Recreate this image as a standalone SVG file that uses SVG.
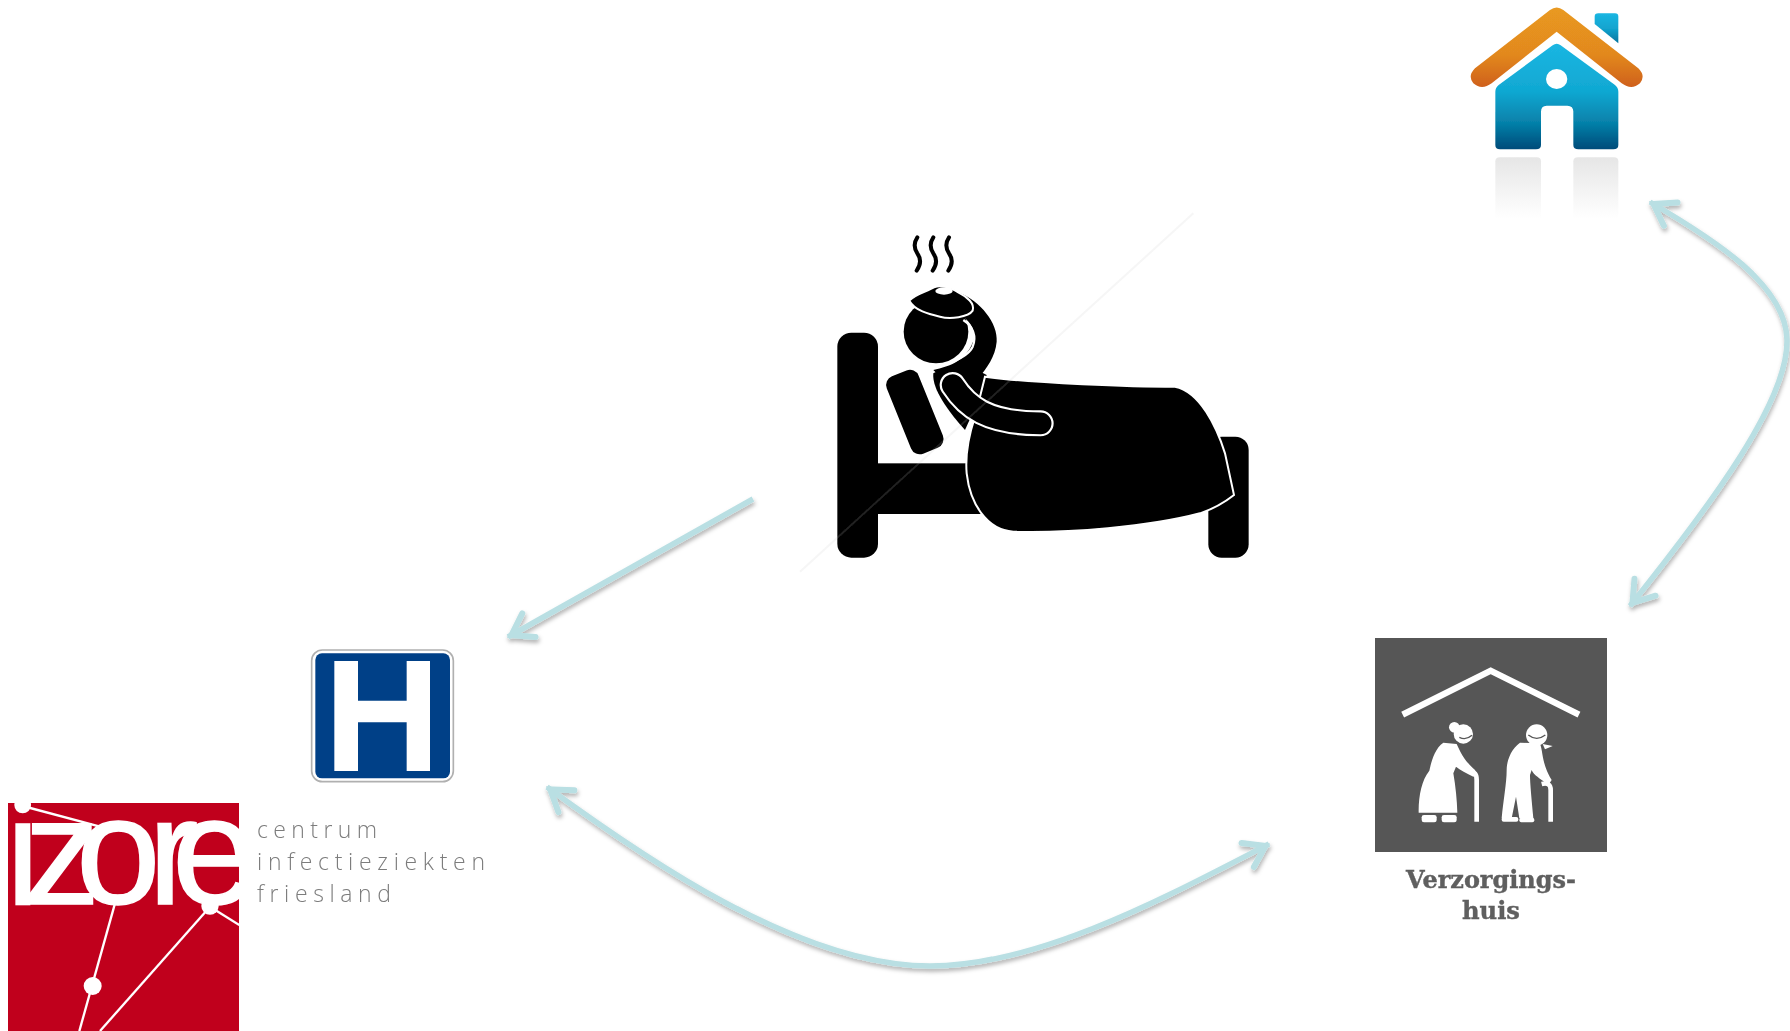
<svg xmlns="http://www.w3.org/2000/svg" width="1790" height="1031" viewBox="0 0 1790 1031">
<style>
.conn{fill:none;stroke:#b9dfe3;stroke-width:5.5;marker-end:url(#ah)}
.both{marker-start:url(#ah)}
.lbl{font-family:"Open Sans","Liberation Sans",sans-serif;font-weight:300;font-size:23px;fill:#7c7c7c}
.care{font-family:"DejaVu Serif","Liberation Serif",serif;font-weight:700;font-size:24px;fill:#5e5e5e;stroke:#5e5e5e;stroke-width:0.4;text-anchor:middle}
.w{fill:#fff}
.wl{fill:none;stroke:#fff}
.k{fill:#000}
</style>
<defs>
<filter id="soft" x="-5%" y="-5%" width="110%" height="110%"><feGaussianBlur stdDeviation="0.7"/></filter>
<filter id="shadow" x="-10%" y="-10%" width="120%" height="120%"><feDropShadow dx="1" dy="3" stdDeviation="2" flood-color="#000" flood-opacity="0.3"/></filter>
<marker id="ah" markerUnits="userSpaceOnUse" markerWidth="44" markerHeight="44" viewBox="-30 -22 44 44" refX="4" refY="0" orient="auto-start-reverse" overflow="visible">
<path d="M-20,-13.5 L0,0 L-20,13.5" fill="none" stroke="#b9dfe3" stroke-width="6" stroke-linecap="round"/>
</marker>
<linearGradient id="roof" gradientUnits="userSpaceOnUse" x1="0" y1="20" x2="0" y2="262"><stop offset="0" stop-color="#e99a20"/><stop offset="0.6" stop-color="#e2881f"/><stop offset="1" stop-color="#cf601c"/></linearGradient>
<linearGradient id="wall" gradientUnits="userSpaceOnUse" x1="0" y1="130" x2="0" y2="450"><stop offset="0" stop-color="#1bb6e2"/><stop offset="0.45" stop-color="#10a8d2"/><stop offset="0.75" stop-color="#0680a9"/><stop offset="1" stop-color="#014a78"/></linearGradient>
<linearGradient id="chim" gradientUnits="userSpaceOnUse" x1="0" y1="40" x2="0" y2="130"><stop offset="0" stop-color="#1bb6e2"/><stop offset="0.5" stop-color="#12a4cf"/><stop offset="1" stop-color="#04739c"/></linearGradient>
<linearGradient id="refl" gradientUnits="userSpaceOnUse" x1="0" y1="472" x2="0" y2="655"><stop offset="0" stop-color="#e6e6e6"/><stop offset="1" stop-color="#fff"/></linearGradient>
<clipPath id="izclip"><rect x="8" y="803" width="231" height="228"/></clipPath>
</defs>
<rect width="1790" height="1031" fill="#fff"/>

<g id="patient" filter="url(#soft)">
<g transform="translate(800 210) scale(0.33333)">
<rect class="k" x="112" y="368" width="122" height="675" rx="42"/>
<rect class="k" x="230" y="760" width="320" height="152"/>
<rect class="k" x="1225" y="680" width="121" height="363" rx="40"/>
<rect class="k" x="220" y="555" width="250" height="103" rx="28" transform="rotate(68 345 606)"/>
<g fill="none" stroke="#000" stroke-width="12" stroke-linecap="round">
<path d="M352,82 C340,100 342,115 352,130 C364,147 362,165 350,182"/>
<path d="M400,82 C388,100 390,115 400,130 C412,147 410,165 398,182"/>
<path d="M447,82 C435,100 437,115 447,130 C459,147 457,165 445,182"/>
</g>
<path class="k" d="M400,490 C430,470 520,470 560,495 L540,560 L495,660 C450,610 395,540 400,490Z"/>
<path class="k" d="M478,248 C540,272 595,340 590,395 C586,440 560,475 535,505 L420,500 L400,480 C450,470 505,450 522,385 C525,350 505,330 480,315Z"/>
<ellipse class="k" cx="408" cy="365" rx="97" ry="95"/>
<path d="M490,330 C520,350 530,380 518,410 C505,440 450,460 405,472" fill="none" stroke="#fff" stroke-width="7"/>
<path class="k" d="M328,272 C345,252 380,245 402,232 C430,222 465,240 480,250 C500,260 525,280 518,302 C505,322 450,328 420,320 C385,312 345,302 328,272Z" stroke="#fff" stroke-width="6"/>
<ellipse class="w" cx="432" cy="243" rx="26" ry="11"/>
<path class="k" d="M555,500 C700,520 1000,530 1125,530 C1200,545 1250,650 1275,730 L1302,855 C1270,880 1230,900 1200,910 C1050,950 800,970 640,965 C560,960 510,880 500,790 C495,730 505,680 525,620Z" stroke="#fff" stroke-width="6"/>
<path d="M458,525 C500,590 560,640 722,640" fill="none" stroke="#fff" stroke-width="78" stroke-linecap="round"/>
<path d="M458,525 C500,590 560,640 722,640" fill="none" stroke="#000" stroke-width="65" stroke-linecap="round"/>
<line x1="1180" y1="10" x2="0" y2="1085" stroke="#c8c8c8" stroke-width="6" opacity="0.16"/>
</g>
</g>

<g id="home" filter="url(#soft)">
<g transform="translate(1450 0) scale(0.33333)">
<path d="M136,484 Q136,472 150,472 H260 Q273,472 273,484 V655 H136Z" fill="url(#refl)"/>
<path d="M370,484 Q370,472 384,472 H492 Q505,472 505,484 V655 H370Z" fill="url(#refl)"/>
<path d="M445,40 H495 Q505,40 505,50 V130 L434,72 V50 Q434,40 445,40Z" fill="url(#chim)"/>
<path d="M300,30 Q320,15 340,30 L565,205 Q588,228 570,250 Q545,272 515,250 L320,95 L125,250 Q95,272 70,250 Q52,228 75,205Z" fill="url(#roof)"/>
<path d="M308,136 Q320,126 332,136 L495,255 Q505,263 505,275 V435 Q505,448 490,448 H385 Q370,448 370,435 V335 Q370,317 352,317 H290 Q273,317 273,335 V435 Q273,448 258,448 H150 Q136,448 136,435 V275 Q136,263 146,255Z" fill="url(#wall)"/>
<ellipse class="w" cx="320" cy="237" rx="32" ry="30"/>
</g>
</g>

<g id="hospital" filter="url(#soft)">
<g transform="translate(290 630) scale(0.33333)">
<rect x="65" y="60" width="425" height="395" rx="32" fill="#fff" stroke="#b0b0b0" stroke-width="5"/>
<rect x="76" y="70" width="404" height="375" rx="20" fill="#003f87"/>
<path class="w" d="M133,93 H204 V212 H350 V93 H420 V423 H350 V277 H204 V423 H133Z"/>
</g>
</g>

<g id="izore">
<g filter="url(#soft)">
<rect x="8" y="803" width="231" height="228" fill="#c0001f"/>
<g clip-path="url(#izclip)">
<g transform="translate(0 780) scale(0.33333)">
<g fill="none" stroke="#fff" stroke-width="7">
<line x1="68" y1="78" x2="300" y2="140"/>
<line x1="345" y1="370" x2="238" y2="753"/>
<line x1="630" y1="380" x2="300" y2="753"/>
<line x1="630" y1="380" x2="718" y2="435"/>
</g>
<circle class="w" cx="68" cy="75" r="25"/>
<circle class="w" cx="278" cy="618" r="27"/>
<circle class="w" cx="630" cy="378" r="26"/>
</g>
<text x="6 24 76 148 172" y="904" font-family="Liberation Sans, Arial, sans-serif" font-size="152" fill="#fff" stroke="#fff" stroke-width="1.5">izore</text>
</g>
<text class="lbl" x="257" y="838" textLength="120">centrum</text>
<text class="lbl" x="257" y="870" textLength="228">infectieziekten</text>
<text class="lbl" x="257" y="902" textLength="134">friesland</text>
</g>
</g>

<g id="verzorgingshuis" filter="url(#soft)">
<rect x="1375" y="638" width="232" height="214" fill="#565656"/>
<g transform="translate(1360 620) scale(0.33333)">
<polyline class="wl" points="128,284 392,152 657,284" stroke-width="19"/>
<circle class="w" cx="283" cy="322" r="16"/>
<circle class="w" cx="310" cy="342" r="29"/>
<path d="M298,352 Q318,362 336,346" fill="none" stroke="#565656" stroke-width="4"/>
<path class="w" d="M250,368 L290,372 C300,395 315,425 345,450 L352,465 L340,470 C320,460 300,450 288,440 L280,460 C287,500 291,540 292,578 L176,578 C175,530 185,480 208,452 C215,420 225,385 250,368Z"/>
<rect class="w" x="185" y="585" width="45" height="22" rx="7"/>
<rect class="w" x="245" y="585" width="45" height="22" rx="7"/>
<path class="wl" d="M330,458 Q350,452 350,480 V605" stroke-width="14"/>
<circle class="w" cx="530" cy="345" r="32"/>
<path d="M505,345 Q530,365 556,345" fill="none" stroke="#565656" stroke-width="4"/>
<path class="w" d="M548,372 L578,378 L555,388Z"/>
<path class="w" d="M480,368 L540,370 C550,400 545,430 575,480 L565,495 C540,475 520,465 515,450 L510,465 C510,490 515,540 520,595 L478,595 L468,530 L455,595 L425,595 C430,540 440,490 440,450 C440,420 455,385 480,368Z"/>
<rect class="w" x="425" y="591" width="50" height="14" rx="6"/>
<rect class="w" x="478" y="593" width="45" height="14" rx="6"/>
<path class="wl" d="M545,492 Q572,485 572,510 V605" stroke-width="14"/>
</g>
<text class="care" x="1491" y="888" textLength="170" lengthAdjust="spacingAndGlyphs">Verzorgings-</text>
<text class="care" x="1491" y="919" textLength="58" lengthAdjust="spacingAndGlyphs">huis</text>
</g>

<g id="connectors" filter="url(#shadow)">
<path class="conn" d="M753,499 L508,637"/>
<path class="conn both" d="M1650,202 C1715,240 1786,285 1787,340 C1788,400 1715,500 1630,606"/>
<path class="conn both" d="M547,787 C640,855 798,966 930,966 C1040,966 1170,895 1269,844"/>
</g>
</svg>
